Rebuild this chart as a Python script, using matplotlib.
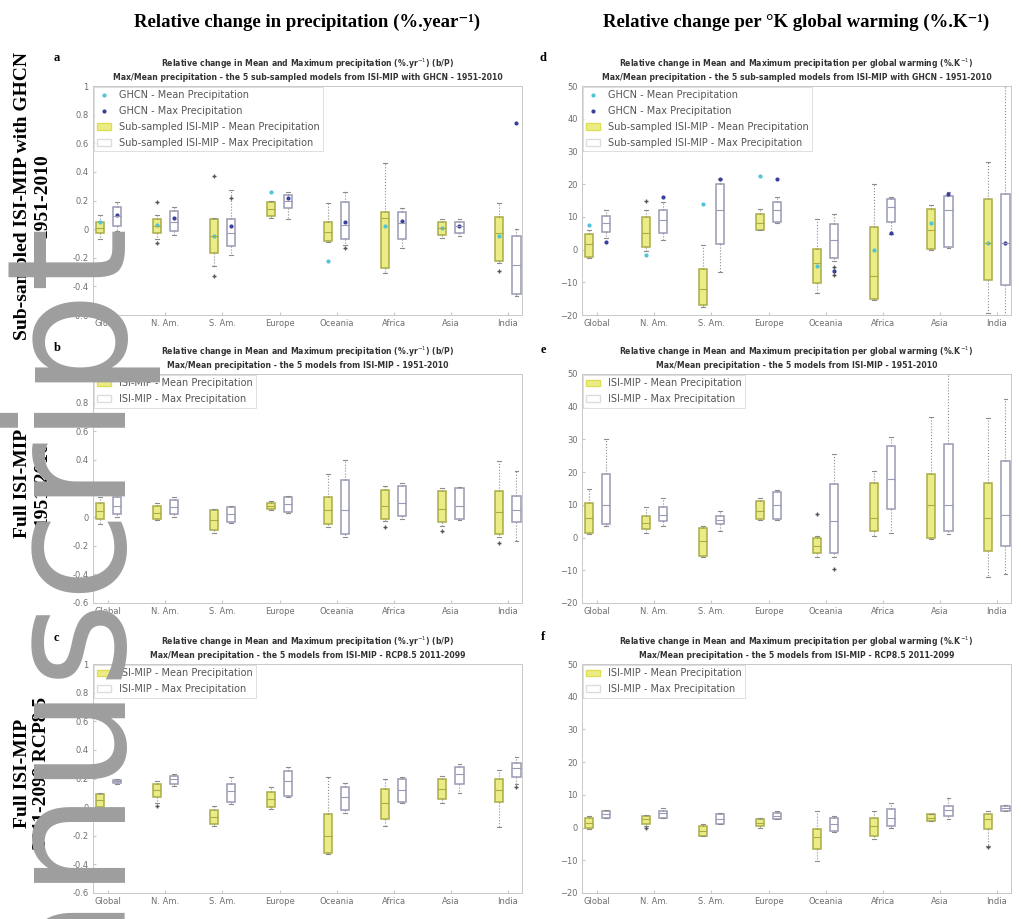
import numpy as np
import matplotlib
matplotlib.use('Agg')
import matplotlib.pyplot as plt
from matplotlib.patches import Patch
from matplotlib.lines import Line2D

regions = ['Global', 'N. Am.', 'S. Am.', 'Europe', 'Oceania', 'Africa', 'Asia', 'India']

# each row: whisker low, q1, median, q3, whisker high (one row per region)
a_mean = [(-0.07, -0.03, 0.01, 0.05, 0.10), (-0.07, -0.03, 0.02, 0.07, 0.10), (-0.26, -0.17, -0.05, 0.07, 0.08),
          (0.08, 0.09, 0.14, 0.19, 0.20), (-0.09, -0.08, -0.02, 0.05, 0.18), (-0.31, -0.27, 0.08, 0.12, 0.46),
          (-0.06, -0.04, 0.01, 0.05, 0.07), (-0.24, -0.22, -0.03, 0.085, 0.18)]
a_max = [(-0.01, 0.02, 0.09, 0.155, 0.19), (-0.04, -0.01, 0.05, 0.13, 0.155), (-0.18, -0.12, -0.03, 0.07, 0.27),
         (0.07, 0.145, 0.20, 0.24, 0.26), (-0.11, -0.07, 0.03, 0.19, 0.26), (-0.13, -0.07, 0.04, 0.12, 0.145),
         (-0.05, -0.03, 0.02, 0.05, 0.07), (-0.47, -0.45, -0.25, -0.05, 0.0)]
a_mean_fl = [[], [0.19, -0.10], [0.37, -0.33], [], [], [], [], [-0.29]]
a_max_fl = [[], [], [0.22], [], [-0.13], [], [], []]
a_ghcn_mean = [0.05, 0.03, -0.05, 0.26, -0.22, 0.02, 0.01, -0.05]
a_ghcn_max = [0.10, 0.08, 0.02, 0.22, 0.05, 0.06, 0.02, 0.74]

d_mean = [(-2.5, -2.2, 1.8, 4.9, 6.0), (-0.5, 0.8, 5.0, 10.0, 12.0), (-17.5, -17.0, -12.0, -5.8, 1.3),
          (6.0, 6.0, 8.0, 11.0, 12.5), (-13.4, -10.3, -4.0, 0.3, 9.4), (-15.5, -15.0, -8.0, 6.9, 20.0),
          (0.0, 0.3, 6.0, 12.5, 13.5), (-19.5, -9.3, 2.0, 15.5, 26.7)]
d_max = [(3.5, 5.4, 8.0, 10.4, 12.0), (3.0, 5.0, 9.0, 12.0, 14.5), (-6.8, 1.8, 12.0, 20.0, 21.5),
         (8.0, 8.4, 12.0, 14.5, 16.0), (-3.5, -2.7, 3.0, 7.9, 11.0), (4.9, 8.4, 13.0, 15.5, 16.0),
         (0.5, 0.8, 12.0, 16.5, 17.5), (-20.0, -10.8, 2.0, 17.0, 50.0)]
d_mean_fl = [[], [15.0], [], [], [], [], [], []]
d_max_fl = [[], [], [], [], [-5.3, -7.8], [], [], []]
d_ghcn_mean = [7.5, -1.7, 14.0, 22.6, -5.0, 0.0, 8.0, 2.0]
d_ghcn_max = [2.3, 16.0, 21.5, 21.6, -6.5, 5.0, 17.0, 2.0]

b_mean = [(-0.05, -0.01, 0.04, 0.10, 0.14), (-0.02, -0.01, 0.03, 0.08, 0.10), (-0.11, -0.09, -0.02, 0.05, 0.06),
          (0.05, 0.06, 0.08, 0.10, 0.11), (-0.07, -0.05, 0.05, 0.14, 0.30), (-0.03, -0.01, 0.08, 0.19, 0.22),
          (-0.06, -0.035, 0.06, 0.18, 0.20), (-0.14, -0.12, 0.035, 0.18, 0.39)]
b_max = [(0.0, 0.02, 0.08, 0.14, 0.17), (0.0, 0.02, 0.07, 0.12, 0.14), (-0.04, -0.035, 0.02, 0.07, 0.08),
         (0.03, 0.035, 0.09, 0.14, 0.15), (-0.14, -0.12, 0.05, 0.26, 0.40), (-0.01, 0.01, 0.10, 0.22, 0.24),
         (-0.02, -0.01, 0.08, 0.20, 0.21), (-0.17, -0.035, 0.05, 0.15, 0.32)]
b_mean_fl = [[], [], [], [], [], [-0.07], [-0.10], [-0.18]]
b_max_fl = [[], [], [], [], [], [], [], []]

e_mean = [(1.0, 1.5, 6.0, 10.7, 14.8), (1.5, 2.5, 4.5, 6.6, 9.2), (-6.0, -5.6, -1.0, 3.0, 3.5),
          (5.5, 5.6, 8.0, 11.2, 12.2), (-6.0, -4.6, -2.5, 0.0, 0.5), (0.5, 2.0, 6.0, 16.8, 20.4),
          (-0.5, 0.0, 10.0, 19.4, 37.0), (-12.2, -4.0, 6.0, 16.8, 36.7)]
e_max = [(3.5, 4.0, 10.0, 19.4, 30.0), (3.6, 5.1, 7.0, 9.2, 12.2), (2.0, 4.0, 5.5, 6.6, 8.2),
         (5.5, 5.6, 10.0, 13.8, 14.5), (-6.0, -4.6, 5.0, 16.3, 25.5), (1.5, 8.7, 18.0, 28.0, 30.6),
         (1.0, 2.0, 10.0, 28.6, 50.0), (-11.2, -2.5, 7.0, 23.5, 42.3)]
e_mean_fl = [[], [], [], [], [7.1], [], [], []]
e_max_fl = [[], [], [], [], [-9.7], [], [], []]

c_mean = [(-0.01, 0.0, 0.05, 0.09, 0.10), (0.03, 0.07, 0.12, 0.16, 0.18), (-0.13, -0.12, -0.07, -0.02, 0.01),
          (-0.01, 0.0, 0.06, 0.105, 0.14), (-0.33, -0.32, -0.20, -0.05, 0.21), (-0.13, -0.08, 0.03, 0.13, 0.20),
          (0.03, 0.06, 0.13, 0.20, 0.22), (-0.14, 0.035, 0.12, 0.20, 0.26)]
c_max = [(0.16, 0.17, 0.18, 0.19, 0.20), (0.15, 0.16, 0.20, 0.22, 0.23), (0.02, 0.035, 0.11, 0.16, 0.21),
         (0.07, 0.08, 0.18, 0.25, 0.28), (-0.04, -0.02, 0.07, 0.14, 0.17), (0.03, 0.035, 0.12, 0.20, 0.21),
         (0.10, 0.16, 0.23, 0.28, 0.30), (0.16, 0.21, 0.27, 0.31, 0.35)]
c_mean_fl = [[], [0.01], [], [], [], [], [], []]
c_max_fl = [[], [], [], [], [], [], [], [0.14]]

f_mean = [(-0.3, 0.0, 1.5, 3.0, 3.5), (0.5, 1.0, 2.5, 3.5, 3.8), (-2.5, -2.5, -1.0, 0.5, 1.0),
          (0.0, 0.5, 1.5, 2.5, 3.0), (-10.2, -6.6, -3.0, -0.5, 5.1), (-3.5, -2.5, 0.5, 3.0, 5.0),
          (2.0, 2.0, 3.0, 4.0, 4.1), (-5.6, -0.5, 2.5, 4.0, 5.0)]
f_max = [(3.0, 3.0, 4.0, 5.0, 5.5), (3.0, 3.0, 4.5, 5.0, 6.0), (1.0, 1.0, 2.5, 4.0, 4.5),
         (2.5, 2.5, 3.5, 4.6, 5.0), (-1.5, -1.0, 1.0, 3.0, 3.5), (0.0, 0.5, 3.0, 5.6, 7.5),
         (2.5, 3.5, 5.5, 6.6, 9.0), (5.0, 5.1, 6.0, 6.6, 7.0)]
f_mean_fl = [[], [0.0], [], [], [], [], [], [-6.0]]
f_max_fl = [[], [], [], [], [], [], [], []]

YEL = '#ecec86'
YEL_EDGE = '#a9ad45'
MAX_EDGE = '#9a9ab4'
GREY = '#6f6f6f'
SERIF = ['Liberation Serif', 'DejaVu Serif']

t1_yr = 'Relative change in Mean and Maximum precipitation (%.yr$^{-1}$) (b/P)'
t1_k = 'Relative change in Mean and Maximum precipitation per global warming (%.K$^{-1}$)'
sub_a = 'Max/Mean precipitation - the 5 sub-sampled models from ISI-MIP with GHCN - 1951-2010'
sub_b = 'Max/Mean precipitation - the 5 models from ISI-MIP - 1951-2010'
sub_c = 'Max/Mean precipitation - the 5 models from ISI-MIP - RCP8.5 2011-2099'


def stats(rows, fl):
    return [dict(whislo=r[0], q1=r[1], med=r[2], q3=r[3], whishi=r[4], fliers=f) for r, f in zip(rows, fl)]


def panel(ax, mean_rows, max_rows, mean_fl, max_fl, ylim, ystep, title, pre, ghcn=None):
    x = np.arange(len(regions))
    common = dict(widths=0.15, patch_artist=True, showfliers=True, capwidths=0.06,
                  whiskerprops=dict(color='#8c8c8c', linestyle=':', linewidth=0.8),
                  capprops=dict(color='#8c8c8c', linewidth=0.8),
                  flierprops=dict(marker='+', markeredgecolor='#555555', markersize=3, linestyle='none'))
    ax.bxp(stats(mean_rows, mean_fl), positions=x - 0.15,
           boxprops=dict(facecolor=YEL, edgecolor=YEL_EDGE, linewidth=1.1),
           medianprops=dict(color=YEL_EDGE, linewidth=0.8), **common)
    ax.bxp(stats(max_rows, max_fl), positions=x + 0.15,
           boxprops=dict(facecolor='white', edgecolor=MAX_EDGE, linewidth=1.1),
           medianprops=dict(color=MAX_EDGE, linewidth=0.8), **common)

    handles = []
    if ghcn is not None:
        ax.plot(x - 0.15, ghcn[0], 'o', color='#4fc4d8', markersize=2, linestyle='none')
        ax.plot(x + 0.15, ghcn[1], 'o', color='#3a3f9a', markersize=2, linestyle='none')
        handles += [Line2D([], [], marker='o', color='#4fc4d8', markersize=2, linestyle='none',
                           label='GHCN - Mean Precipitation'),
                    Line2D([], [], marker='o', color='#3a3f9a', markersize=2, linestyle='none',
                           label='GHCN - Max Precipitation')]
    handles += [Patch(facecolor=YEL, edgecolor='#dddd55', label=pre + ' - Mean Precipitation'),
                Patch(facecolor='white', edgecolor='#dddddd', label=pre + ' - Max Precipitation')]
    leg = ax.legend(handles=handles, loc='upper left', fontsize=7, frameon=True, fancybox=False,
                    borderaxespad=0.1, handlelength=1.4, labelspacing=0.6, borderpad=0.35)
    leg.get_frame().set_edgecolor('#d0d0d0')
    leg.get_frame().set_linewidth(0.6)
    for t in leg.get_texts():
        t.set_color('#555555')

    ax.set_xlim(-0.27, 7.25)
    ax.set_ylim(*ylim)
    ax.set_yticks(np.arange(ylim[0], ylim[1] + ystep / 2, ystep))
    if ystep < 1:
        ax.set_yticklabels(['%g' % round(v, 1) for v in ax.get_yticks()])
    ax.set_xticks(x)
    ax.set_xticklabels(regions)
    ax.tick_params(labelsize=6, colors='#c8c8c8', labelcolor=GREY, direction='in', length=2, pad=3)
    for s in ax.spines.values():
        s.set_color('#c8c8c8')
        s.set_linewidth(0.7)
    ax.set_title(title, fontsize=5.6, fontweight='bold', pad=4, color='#333333', linespacing=1.4)


fig = plt.figure(figsize=(10.21, 9.19), dpi=100)

L1, L2, W = 93 / 1021, 582 / 1021, 429 / 1021
rows_y = [1 - 315 / 919, 1 - 603 / 919, 1 - 893 / 919]
H = 229 / 919

ax_a = fig.add_axes([L1, rows_y[0], W, H])
ax_b = fig.add_axes([L1, rows_y[1], W, H])
ax_c = fig.add_axes([L1, rows_y[2], W, H])
ax_d = fig.add_axes([L2, rows_y[0], W, H])
ax_e = fig.add_axes([L2, rows_y[1], W, H])
ax_f = fig.add_axes([L2, rows_y[2], W, H])

panel(ax_a, a_mean, a_max, a_mean_fl, a_max_fl, (-0.6, 1.0), 0.2, t1_yr + '\n' + sub_a,
      'Sub-sampled ISI-MIP', ghcn=(a_ghcn_mean, a_ghcn_max))
panel(ax_b, b_mean, b_max, b_mean_fl, b_max_fl, (-0.6, 1.0), 0.2, t1_yr + '\n' + sub_b, 'ISI-MIP')
panel(ax_c, c_mean, c_max, c_mean_fl, c_max_fl, (-0.6, 1.0), 0.2, t1_yr + '\n' + sub_c, 'ISI-MIP')
panel(ax_d, d_mean, d_max, d_mean_fl, d_max_fl, (-20, 50), 10, t1_k + '\n' + sub_a,
      'Sub-sampled ISI-MIP', ghcn=(d_ghcn_mean, d_ghcn_max))
panel(ax_e, e_mean, e_max, e_mean_fl, e_max_fl, (-20, 50), 10, t1_k + '\n' + sub_b, 'ISI-MIP')
panel(ax_f, f_mean, f_max, f_mean_fl, f_max_fl, (-20, 50), 10, t1_k + '\n' + sub_c, 'ISI-MIP')

# column headers
fig.text(L1 + W / 2, 1 - 22 / 919, 'Relative change in precipitation (%.year\u207b\u00b9)', family=SERIF,
         fontweight='bold', fontsize=13.5, ha='center', va='center')
fig.text(L2 + W / 2, 1 - 22 / 919, 'Relative change per \u00b0K global warming (%.K\u207b\u00b9)', family=SERIF,
         fontweight='bold', fontsize=13.5, ha='center', va='center')

# row headers
row_labels = ['Sub-sampled ISI-MIP with GHCN\n1951-2010', 'Full ISI-MIP\n1951-2010', 'Full ISI-MIP\n2011-2099 RCP8.5']
for y0, lab in zip(rows_y, row_labels):
    fig.text(32 / 1021, y0 + H / 2 + 0.005, lab, family=SERIF, fontweight='bold', fontsize=14, rotation=90,
             ha='center', va='center', linespacing=1.2)

# panel letters
for lab, (px, py) in zip('abcdef', [(57, 58), (57, 348), (56, 638), (543, 58), (543, 350), (543, 637)]):
    fig.text(px / 1021, 1 - py / 919, lab, family=SERIF, fontweight='bold', fontsize=9, ha='center', va='center')

# watermark
fig.text(0.064, 0.77, 'manuscript', family='DejaVu Sans', fontsize=119, rotation=90, color='#9e9e9e',
         ha='center', va='top', zorder=10)

fig.savefig('out.png', dpi=100)
